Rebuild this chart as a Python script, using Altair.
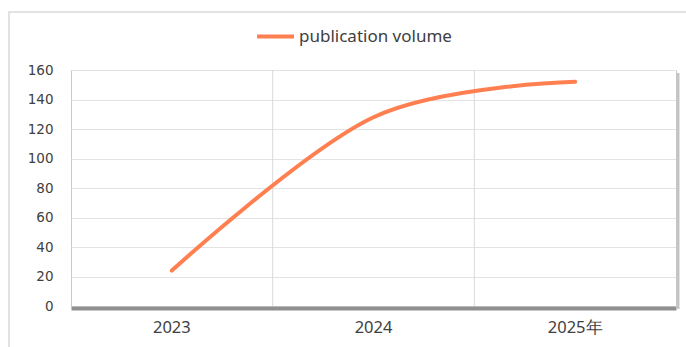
import altair as alt
import pandas as pd

years = ["2023", "2024", "2025年"]
volume = [24, 128, 152]
series_name = "publication volume"
y_ticks = [0, 20, 40, 60, 80, 100, 120, 140, 160]

df = pd.DataFrame({"year": years, "volume": volume, "series": [series_name] * len(years)})
grid_df = pd.DataFrame({"year": years[1:]})

FONT = "Noto Sans"
YFONT = "DejaVu Sans"
TXT = "#404040"

xscale = alt.Scale(type="band", domain=years, paddingInner=0, paddingOuter=0)
xaxis = alt.Axis(
    labelAngle=0, labelFont=FONT, labelFontSize=16.5, labelColor=TXT,
    labelPadding=11, ticks=False, grid=False,
    domain=True, domainColor="#909090", domainWidth=4, offset=2,
)

border = alt.Chart(alt.Data(values=[{}])).mark_rect(
    fill=None, stroke="#d9d9d9", strokeWidth=1.5
).encode(x=alt.value(-62), x2=alt.value(720), y=alt.value(-58), y2=alt.value(300))

right_shadow = alt.Chart(alt.Data(values=[{}])).mark_rule(
    color="#c4c4c4", strokeWidth=3
).encode(x=alt.value({"expr": "width + 2"}), y=alt.value(3), y2=alt.value({"expr": "height + 3"}))

vgrid = alt.Chart(grid_df).mark_rule(color="#d9d9d9", strokeWidth=1).encode(
    x=alt.X("year:N", bandPosition=0, scale=xscale, sort=years, title=None, axis=xaxis),
    y=alt.value(0),
    y2=alt.value({"expr": "height"}),
)

line = alt.Chart(df).mark_line(
    interpolate="cardinal", tension=0, strokeWidth=4, strokeCap="round"
).encode(
    x=alt.X("year:N", scale=xscale, sort=years, title=None, axis=xaxis),
    y=alt.Y(
        "volume:Q",
        scale=alt.Scale(domain=[0, 160], nice=False),
        title=None,
        axis=alt.Axis(
            values=y_ticks, labelFont=YFONT, labelFontSize=13.5, labelColor=TXT,
            labelPadding=18, ticks=False, domain=False,
            grid=True, gridColor="#e3e3e3", gridWidth=1,
        ),
    ),
    color=alt.Color(
        "series:N",
        scale=alt.Scale(domain=[series_name], range=["#FF7F50"]),
        legend=alt.Legend(
            title=None, orient="none", legendX=184, legendY=-54,
            symbolType="stroke", symbolSize=1369, symbolStrokeWidth=4,
            labelFont=FONT, labelFontSize=17, labelColor=TXT, labelOffset=3,
        ),
    ),
)

chart = alt.layer(border, right_shadow, vgrid, line).properties(
    width=605,
    height=236,
    autosize=alt.AutoSizeParams(type="none"),
    padding={"left": 71, "top": 70, "right": 10, "bottom": 41},
    background="white",
).configure_view(stroke="#c8c8c8", strokeWidth=1)

chart.save("out.html", embed_options={"renderer": "svg", "actions": False})
